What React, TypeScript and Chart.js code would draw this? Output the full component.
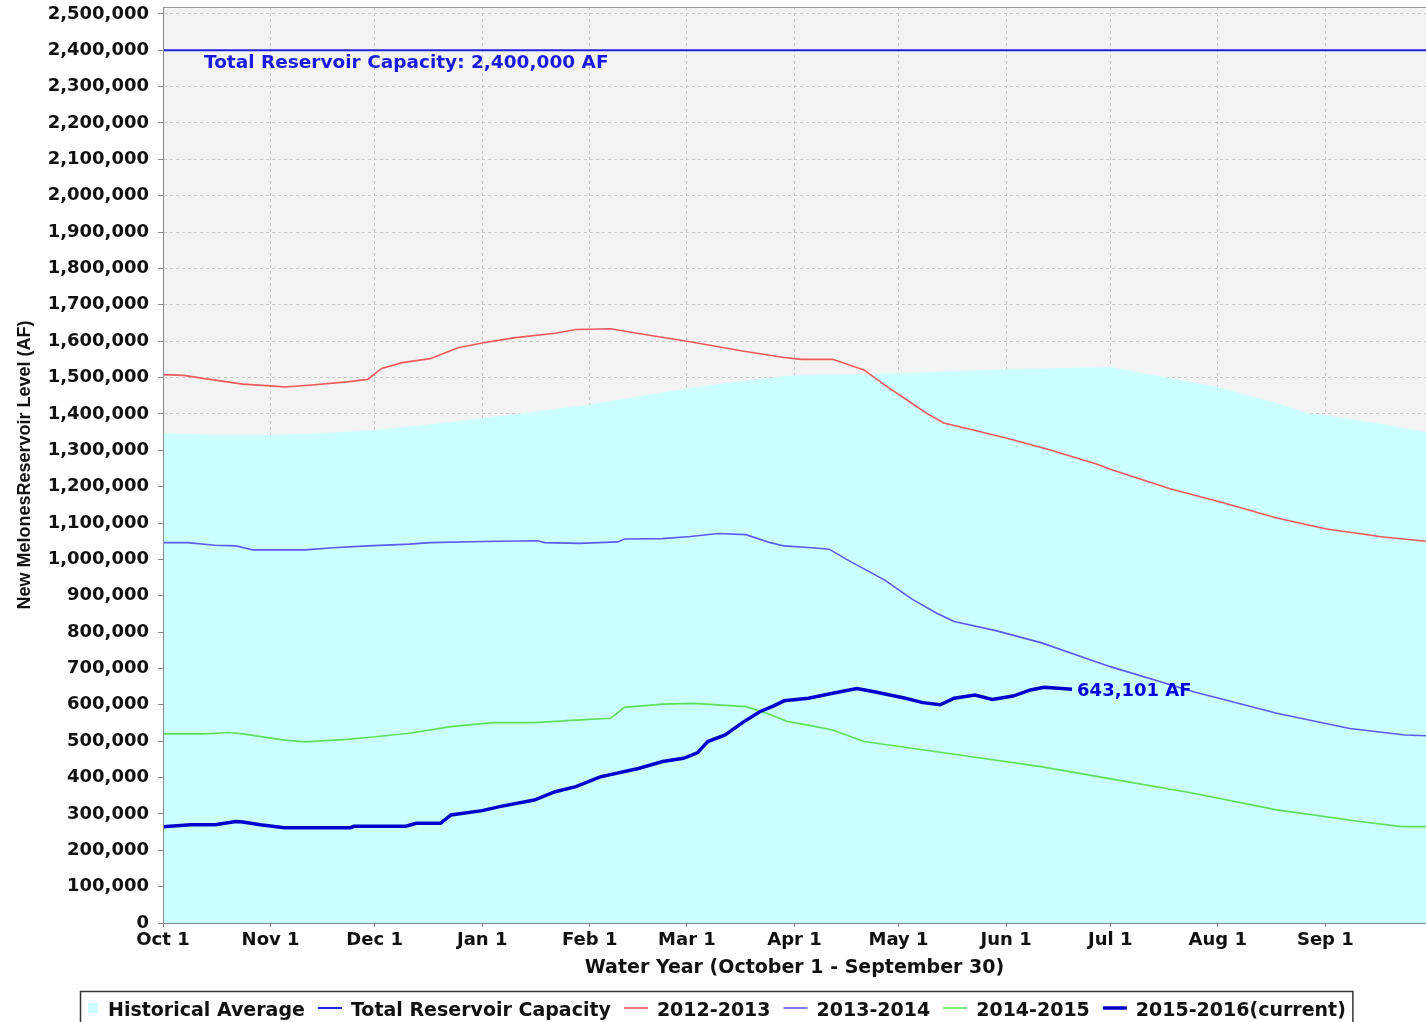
import React, { useEffect, useRef } from 'react';
import { Chart, registerables } from 'chart.js';

Chart.register(...registerables);

// ---------- data ----------
const monthTickDays = [0, 31, 61, 92, 123, 151, 182, 212, 243, 273, 304, 335];
const monthTickLabels = ['Oct 1', 'Nov 1', 'Dec 1', 'Jan 1', 'Feb 1', 'Mar 1', 'Apr 1', 'May 1', 'Jun 1', 'Jul 1', 'Aug 1', 'Sep 1'];

const yTickValues = [0, 100000, 200000, 300000, 400000, 500000, 600000, 700000, 800000, 900000, 1000000, 1100000, 1200000, 1300000, 1400000, 1500000, 1600000, 1700000, 1800000, 1900000, 2000000, 2100000, 2200000, 2300000, 2400000, 2500000];

const historicalDays = [0, 15, 31, 46, 61, 76, 92, 107, 123, 137, 151, 166, 182, 212, 243, 273, 304, 321, 330, 335, 350, 364];
const historicalValues = [1347000, 1343000, 1342000, 1347000, 1356000, 1370000, 1388000, 1406000, 1426000, 1448000, 1470000, 1490000, 1506000, 1512000, 1523000, 1529000, 1474000, 1429000, 1402000, 1397000, 1374000, 1350000];

const capacityValue = 2400000;
const capacityDays = [0, 364];

const wy2013Days = [0, 6, 12, 23, 31, 35, 42, 53, 59, 63, 69, 77, 85, 92, 101, 113, 119, 129, 137, 151, 167, 179, 184, 193, 202, 209, 214, 220, 225, 232, 243, 256, 269, 273, 290, 305, 321, 335, 351, 364];
const wy2013Values = [1508000, 1506000, 1497000, 1482000, 1477000, 1474000, 1479000, 1488000, 1495000, 1525000, 1541000, 1552000, 1582000, 1595000, 1609000, 1622000, 1632000, 1634000, 1621000, 1600000, 1573000, 1555000, 1550000, 1550000, 1521000, 1473000, 1441000, 1402000, 1375000, 1359000, 1334000, 1300000, 1262000, 1248000, 1195000, 1157000, 1114000, 1084000, 1062000, 1050000];

const wy2014Days = [0, 7, 15, 21, 26, 41, 49, 59, 71, 77, 92, 108, 110, 120, 131, 133, 144, 152, 160, 168, 175, 179, 187, 192, 197, 208, 216, 223, 228, 240, 253, 273, 297, 321, 342, 358, 364];
const wy2014Values = [1046000, 1046000, 1039000, 1037000, 1026000, 1026000, 1032000, 1037000, 1042000, 1046000, 1049000, 1051000, 1046000, 1044000, 1048000, 1056000, 1057000, 1063000, 1071000, 1068000, 1046000, 1037000, 1032000, 1028000, 1000000, 943000, 890000, 852000, 829000, 804000, 771000, 705000, 636000, 577000, 535000, 517000, 515000];

const wy2015Days = [0, 12, 19, 23, 35, 41, 53, 59, 71, 83, 95, 107, 119, 129, 133, 144, 153, 168, 174, 180, 187, 193, 202, 226, 253, 274, 297, 321, 345, 357, 364];
const wy2015Values = [520000, 520000, 524000, 520000, 503000, 498000, 505000, 510000, 522000, 540000, 551000, 551000, 558000, 563000, 593000, 602000, 604000, 595000, 577000, 554000, 542000, 531000, 499000, 467000, 430000, 395000, 357000, 311000, 279000, 265000, 265000];

const wy2016Days = [0, 8, 15, 21, 23, 28, 35, 54, 55, 70, 73, 80, 83, 92, 97, 107, 113, 119, 126, 137, 144, 150, 154, 157, 162, 167, 172, 176, 179, 186, 193, 200, 205, 214, 219, 224, 228, 234, 239, 245, 250, 254, 262];
const wy2016Values = [265000, 270000, 270000, 279000, 278000, 270000, 262000, 262000, 266000, 266000, 274000, 274000, 297000, 309000, 320000, 338000, 361000, 375000, 402000, 425000, 444000, 453000, 468000, 499000, 517000, 551000, 581000, 597000, 611000, 618000, 632000, 645000, 636000, 618000, 606000, 600000, 618000, 627000, 615000, 624000, 641000, 648000, 643101];

const seriesLabels = ['Historical Average', 'Total Reservoir Capacity', '2012-2013', '2013-2014', '2014-2015', '2015-2016(current)'];
const seriesColors = ['#ccffff', '#2020e0', '#f05a5a', '#5b5bf0', '#5ee05e', '#0000cc'];
const yAxisTitle = 'New MelonesReservoir Level (AF)';
const xAxisTitle = 'Water Year (October 1 - September 30)';

// ---------- helpers ----------
const fmt = (v: number) => String(Math.round(v)).replace(/\B(?=(\d{3})+(?!\d))/g, ',');
const toXY = (days: number[], vals: number[]) => days.map((d, i) => ({ x: d, y: vals[i] }));
const FONT = '"DejaVu Sans", "Liberation Sans", Arial, sans-serif';

const plotBgPlugin = {
  id: 'plotBg',
  beforeDraw(chart: any) {
    const { ctx, chartArea } = chart;
    ctx.save();
    ctx.fillStyle = '#ffffff';
    ctx.fillRect(0, 0, chart.width, chart.height);
    ctx.fillStyle = '#f3f3f3';
    ctx.fillRect(chartArea.left, chartArea.top, chartArea.right - chartArea.left, chartArea.bottom - chartArea.top);
    ctx.restore();
  },
};

const annotatePlugin = {
  id: 'annotate',
  afterDatasetsDraw(chart: any) {
    const { ctx, chartArea, scales } = chart;
    const xs = scales.x;
    const ys = scales.y;
    ctx.save();
    ctx.strokeStyle = '#9a9a9a';
    ctx.lineWidth = 1;
    ctx.beginPath();
    ctx.moveTo(chartArea.left, chartArea.top + 0.5);
    ctx.lineTo(chartArea.right, chartArea.top + 0.5);
    ctx.stroke();

    ctx.fillStyle = '#1a1ae0';
    ctx.font = `bold 18.5px ${FONT}`;
    ctx.textAlign = 'left';
    ctx.textBaseline = 'alphabetic';
    const cy = ys.getPixelForValue(capacityValue);
    ctx.fillText(`Total Reservoir Capacity: ${fmt(capacityValue)} AF`, xs.getPixelForValue(capacityDays[0]) + 41, cy + 18);

    const lastDay = wy2016Days[wy2016Days.length - 1];
    const lastVal = wy2016Values[wy2016Values.length - 1];
    const px = xs.getPixelForValue(lastDay);
    const py = ys.getPixelForValue(lastVal);
    ctx.font = `bold 18px ${FONT}`;
    ctx.fillStyle = '#0000dd';
    ctx.fillText(`${fmt(lastVal)} AF`, px + 5, py + 7);
    ctx.restore();
  },
  afterDraw(chart: any) {
    const { ctx } = chart;
    ctx.save();
    ctx.font = `bold 19px ${FONT}`;
    const startX = 88;
    const baseY = 1016;
    const midY = 1008;
    let x = startX;
    const layout: any[] = [];
    seriesLabels.forEach((label, i) => {
      const ds = chart.data.datasets[i];
      const isSquare = i === 0;
      const markW = isSquare ? 10 : 24;
      const markX = x;
      const textX = isSquare ? x + 20 : x + 9 + markW;
      const tw = ctx.measureText(label).width;
      layout.push({ label, markX, markW, textX, isSquare, color: seriesColors[i], lw: ds.borderWidth });
      x = textX + tw + 13;
    });
    const boxLeft = 80.5;
    const boxRight = x - 13 + 7;
    ctx.fillStyle = '#ffffff';
    ctx.fillRect(boxLeft, 991.5, boxRight - boxLeft, 40);
    ctx.strokeStyle = '#333333';
    ctx.lineWidth = 1.5;
    ctx.strokeRect(boxLeft, 991.5, boxRight - boxLeft, 40);
    layout.forEach((it) => {
      if (it.isSquare) {
        ctx.fillStyle = it.color;
        ctx.fillRect(it.markX, midY - 5, it.markW, 10);
      } else {
        ctx.strokeStyle = it.color;
        ctx.lineWidth = it.lw;
        ctx.beginPath();
        ctx.moveTo(it.markX, midY);
        ctx.lineTo(it.markX + it.markW, midY);
        ctx.stroke();
      }
      ctx.fillStyle = '#111111';
      ctx.textAlign = 'left';
      ctx.textBaseline = 'alphabetic';
      ctx.fillText(it.label, it.textX, baseY);
    });
    ctx.restore();
  },
};

export default function App() {
  const canvasRef = useRef<HTMLCanvasElement | null>(null);

  useEffect(() => {
    if (!canvasRef.current) return;
    const tickFont = { family: FONT, size: 18, weight: 'bold' as const };
    const chart = new Chart(canvasRef.current, {
      type: 'line',
      data: {
        datasets: [
          {
            label: seriesLabels[0],
            data: toXY(historicalDays, historicalValues),
            borderColor: 'rgba(0,0,0,0)',
            backgroundColor: seriesColors[0],
            borderWidth: 1,
            fill: 'origin',
            pointRadius: 0,
            order: 10,
          },
          {
            label: seriesLabels[1],
            data: toXY(capacityDays, capacityDays.map(() => capacityValue)),
            borderColor: seriesColors[1],
            borderWidth: 2,
            fill: false,
            pointRadius: 0,
            order: 5,
          },
          {
            label: seriesLabels[2],
            data: toXY(wy2013Days, wy2013Values),
            borderColor: seriesColors[2],
            borderWidth: 1.6,
            fill: false,
            pointRadius: 0,
            order: 4,
          },
          {
            label: seriesLabels[3],
            data: toXY(wy2014Days, wy2014Values),
            borderColor: seriesColors[3],
            borderWidth: 1.6,
            fill: false,
            pointRadius: 0,
            order: 3,
          },
          {
            label: seriesLabels[4],
            data: toXY(wy2015Days, wy2015Values),
            borderColor: seriesColors[4],
            borderWidth: 1.6,
            fill: false,
            pointRadius: 0,
            order: 2,
          },
          {
            label: seriesLabels[5],
            data: toXY(wy2016Days, wy2016Values),
            borderColor: seriesColors[5],
            borderWidth: 3.5,
            fill: false,
            pointRadius: 0,
            order: 1,
          },
        ],
      },
      options: {
        animation: false,
        responsive: true,
        maintainAspectRatio: false,
        layout: { padding: { top: 7, left: 0, right: 0, bottom: 0 } },
        plugins: {
          legend: { display: false },
          tooltip: { enabled: false },
        },
        scales: {
          x: {
            type: 'linear',
            min: 0,
            max: 364,
            afterBuildTicks: (s: any) => {
              s.ticks = monthTickDays.map((v) => ({ value: v }));
            },
            afterFit: (s: any) => {
              s.height = 99;
              s.paddingLeft = 0;
              s.paddingRight = 0;
            },
            ticks: {
              autoSkip: false,
              maxRotation: 0,
              minRotation: 0,
              padding: 3,
              color: '#111111',
              font: tickFont,
              callback: (v: any) => {
                const i = monthTickDays.indexOf(Number(v));
                return i >= 0 ? monthTickLabels[i] : '';
              },
            },
            grid: { color: '#c8c8c8', lineWidth: 1, tickLength: 4, tickColor: '#888888' },
            border: { display: true, color: '#8a8a8a', width: 1, dash: [3, 3], z: 1 },
            title: {
              display: true,
              text: xAxisTitle,
              color: '#111111',
              font: { family: FONT, size: 19, weight: 'bold' },
              padding: { top: 0, bottom: 43 },
            },
          },
          y: {
            type: 'linear',
            min: 0,
            max: 2519000,
            afterBuildTicks: (s: any) => {
              s.ticks = yTickValues.map((v) => ({ value: v }));
            },
            afterFit: (s: any) => {
              s.width = 163;
              s.paddingTop = 0;
              s.paddingBottom = 0;
            },
            ticks: {
              autoSkip: false,
              padding: 9,
              color: '#111111',
              font: tickFont,
              callback: (v: any) => fmt(Number(v)),
            },
            grid: { color: '#c8c8c8', lineWidth: 1, tickLength: 5, tickColor: '#888888' },
            border: { display: true, color: '#8a8a8a', width: 1, dash: [3, 3], z: 1 },
            title: {
              display: true,
              text: yAxisTitle,
              color: '#111111',
              font: { family: '"Liberation Sans", Arial, sans-serif', size: 18, weight: 'bold' },
              padding: { top: 14, bottom: 0 },
            },
          },
        },
      },
      plugins: [plotBgPlugin, annotatePlugin],
    });
    return () => chart.destroy();
  }, []);

  return (
    <div style={{ position: 'absolute', left: 0, top: 0, width: 1426, height: 1022 }}>
      <canvas ref={canvasRef} />
    </div>
  );
}
